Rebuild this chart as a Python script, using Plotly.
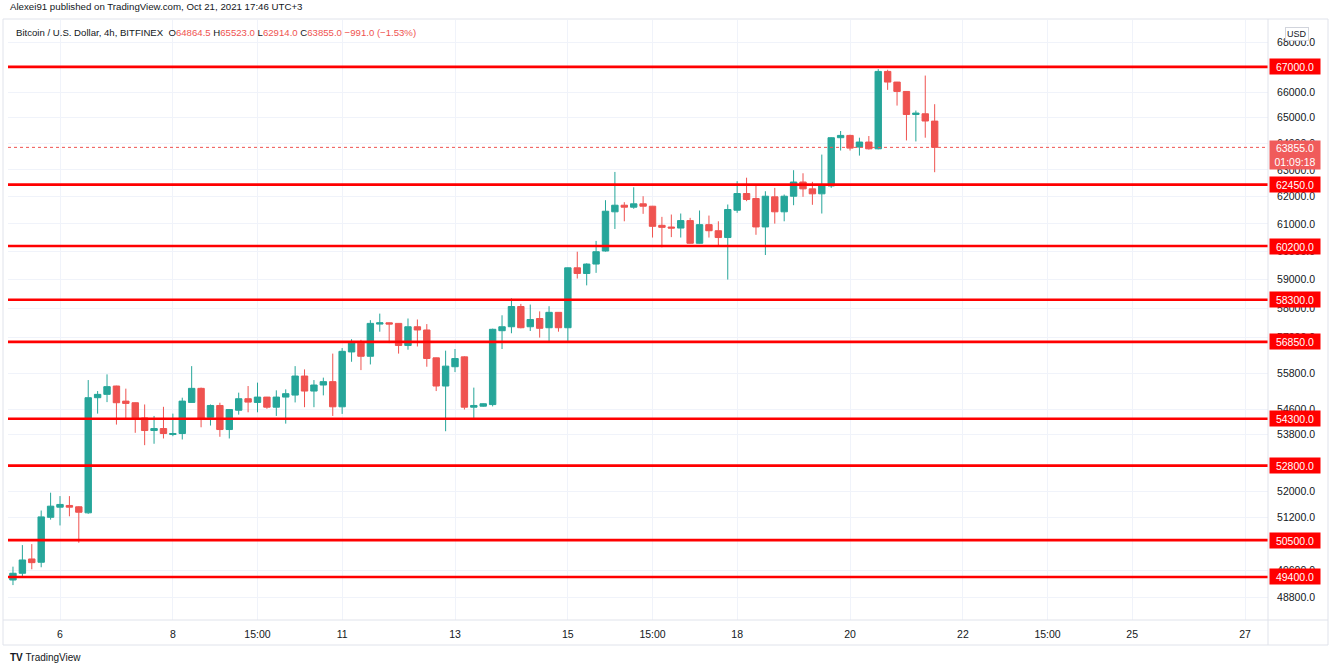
import numpy as np
import pandas as pd
import plotly.graph_objects as go

# ---------------- data (BTC/USD 4h, Bitfinex) ----------------
start_time = "2021-10-05 04:00"   # UTC, first candle
opens = [49311, 49510, 49935, 49837, 51193, 51504, 51557, 51516, 51330, 54985,
         55095, 55370, 54873, 54820, 54323, 53917, 53981, 53789, 53821, 54830,
         55293, 54343, 54730, 53949, 54575, 54952, 54830, 55005, 54674, 55005,
         55071, 55701, 55204, 55403, 55515, 54687, 56509, 56807, 56363, 57457,
         57501, 57481, 56727, 57366, 57255, 56310, 55370, 56012, 56343, 54674,
         54707, 54760, 57231, 57366, 58064, 57366, 57649, 57332, 57862, 57332,
         59422, 59221, 59555, 60021, 61443, 61686, 61613, 61738, 61649, 60949,
         60887, 60850, 61122, 60299, 60974, 60753, 60506, 61502, 62118, 61934,
         60890, 61996, 61443, 62018, 62547, 62291, 62107, 62400, 64224, 64312,
         63865, 64058, 63800, 66819, 66395, 66024, 65122, 65149, 64864.5]
highs = [49706, 50351, 50381, 51401, 51952, 51846, 51846, 51535, 55568, 55204,
         55757, 55380, 55283, 54830, 54763, 54389, 54687, 54465, 54985, 56032,
         55317, 54763, 54820, 54610, 55151, 55370, 55482, 55010, 55227, 55260,
         56032, 55923, 55568, 55648, 56453, 56641, 56941, 56917, 57592, 57818,
         57510, 57490, 57649, 57615, 57457, 56320, 56552, 56608, 56363, 55317,
         54800, 57300, 57760, 58347, 58155, 58131, 57895, 58074, 57870, 59430,
         59996, 59580, 60384, 61871, 62924, 61797, 62350, 62018, 61660, 61258,
         61343, 61380, 61222, 61491, 61306, 61096, 61712, 62577, 62708, 62450,
         62203, 62328, 62081, 62990, 62874, 62554, 63580, 64240, 64482, 64339,
         64224, 64289, 66911, 66884, 66400, 66030, 65276, 66653, 65523.0]
lows = [49162, 49430, 49629, 49688, 51122, 50945, 51224, 50420, 51300, 54465,
        54840, 54109, 54290, 53844, 53448, 53493, 53662, 53735, 53630, 54820,
        54022, 54077, 53716, 53662, 54432, 54508, 54508, 54621, 54389, 54140,
        54830, 54674, 54674, 55062, 54389, 54455, 56178, 55899, 56088, 57197,
        56807, 56453, 56585, 56694, 56012, 55204, 53895, 55833, 54598, 54323,
        54690, 54700, 56608, 57143, 57312, 57221, 56995, 56860, 57197, 56860,
        59042, 58802, 59243, 60000, 60816, 61096, 61554, 61369, 60506, 60153,
        60521, 60506, 60290, 60290, 60506, 60237, 59006, 61406, 61834, 60605,
        59877, 61011, 61096, 61686, 61996, 61701, 61380, 62328, 63734, 63734,
        63541, 63770, 63780, 66086, 65469, 64120, 64081, 64224, 62914.0]
closes = [49510, 49905, 49825, 51206, 51535, 51588, 51504, 51349, 54985, 55095,
          55350, 54820, 54797, 54290, 53917, 53981, 53821, 53821, 54873, 55293,
          54323, 54730, 53949, 54598, 54952, 54840, 55005, 54674, 55005, 55118,
          55701, 55204, 55403, 55515, 54687, 56529, 56807, 56363, 57481, 57501,
          57457, 56727, 57366, 57255, 56287, 55370, 56032, 56287, 54674, 54730,
          54787, 57278, 57366, 58064, 57332, 57615, 57312, 57862, 57332, 59422,
          59221, 59555, 59996, 61465, 61686, 61613, 61738, 61649, 60912, 60875,
          60850, 61122, 60299, 60974, 60753, 60506, 61528, 62118, 61897, 60890,
          62018, 61443, 62018, 62547, 62291, 62107, 62424, 64224, 64312, 63826,
          64058, 63800, 66819, 66395, 66024, 65122, 65176, 64868, 63855.0]

levels = [67000, 62450, 60200, 58300, 56850, 54300, 52800, 50500, 49400]
last_price = 63855.0
countdown = "01:09:18"

price_ticks = [68000, 67000, 66000, 65000, 64000, 63000, 62000, 61000, 60000,
               59000, 58000, 57000, 55800, 54600, 53800, 52000, 51200, 49600, 48800]
date_tick_vals = ["2021-10-06", "2021-10-08", "2021-10-09 12:00", "2021-10-11",
                  "2021-10-13", "2021-10-15", "2021-10-16 12:00", "2021-10-18",
                  "2021-10-20", "2021-10-22", "2021-10-23 12:00", "2021-10-25",
                  "2021-10-27"]
date_tick_text = ["6", "8", "15:00", "11", "13", "15", "15:00", "18", "20", "22",
                  "15:00", "25", "27"]

title_text = "Alexei91 published on TradingView.com, Oct 21, 2021 17:46 UTC+3"
symbol_text = "Bitcoin / U.S. Dollar, 4h, BITFINEX"
ohlc_text = ["O", "64864.5", "H", "65523.0", "L", "62914.0", "C", "63855.0"]
change_text = "\u2212991.0 (\u22121.53%)"

# ---------------- layout constants ----------------
W, H = 1332, 672
ML, MR, MT, MB = 8, 64, 20, 52
PW, PH = W - ML - MR, H - MT - MB
FONT = "Liberation Sans, Arial, sans-serif"
UP, DOWN = "#26a69a", "#ef5350"

times = pd.date_range(start_time, periods=len(opens), freq="4h")
px_per_day = 56.43
t0 = pd.Timestamp("2021-10-06")
x_left = t0 - pd.Timedelta(days=(60 - ML) / px_per_day)
x_right = t0 + pd.Timedelta(days=(ML + PW - 60) / px_per_day)
y_top, y_bot = 68903.0, 48147.0


def px_x(p):
    return (p - ML) / PW


def px_y(p):
    return (MT + PH - p) / PH


fig = go.Figure()
fig.add_trace(go.Candlestick(
    x=times, open=opens, high=highs, low=lows, close=closes,
    increasing=dict(line=dict(color=UP, width=1), fillcolor=UP),
    decreasing=dict(line=dict(color=DOWN, width=1), fillcolor=DOWN),
    whiskerwidth=0, hoverinfo="skip", showlegend=False))

# current price dotted line
fig.add_trace(go.Scatter(x=[x_left, x_right], y=[last_price, last_price], mode="lines",
                         line=dict(color=DOWN, width=1, dash="dot"),
                         hoverinfo="skip", showlegend=False))

# horizontal levels
for lv in levels:
    fig.add_trace(go.Scatter(x=[x_left, x_right], y=[lv, lv], mode="lines",
                             line=dict(color="#ff0000", width=2.6),
                             hoverinfo="skip", showlegend=False))

annotations = []
for lv in levels:
    annotations.append(dict(
        x=1, xref="paper", xanchor="left", xshift=1,
        y=np.log10(lv), yref="y", yanchor="middle",
        text=f"{lv:.1f}", showarrow=False, width=48, height=13,
        bgcolor="#ff0000", font=dict(family=FONT, size=10.5, color="white")))

annotations.append(dict(
    x=1, xref="paper", xanchor="left", xshift=1,
    y=np.log10(last_price), yref="y", yanchor="top", yshift=7,
    text=f"{last_price:.1f}<br>{countdown}", showarrow=False, width=48, height=26,
    bgcolor="#f05b5b", font=dict(family=FONT, size=10.5, color="white")))

annotations.append(dict(
    x=px_x(1297), xref="paper", xanchor="center", y=px_y(34), yref="paper",
    yanchor="middle", text="USD", showarrow=False, bgcolor="white",
    bordercolor="#d1d4dc", borderwidth=1, borderpad=1,
    font=dict(family=FONT, size=9, color="#131722")))

annotations.append(dict(
    x=px_x(8), xref="paper", xanchor="left", y=px_y(7), yref="paper",
    yanchor="middle", text=title_text, showarrow=False,
    font=dict(family=FONT, size=9.7, color="#131722")))

hdr = symbol_text + "&nbsp;&nbsp;"
for i in range(0, len(ohlc_text), 2):
    hdr += (f"<span style='color:#131722'>{ohlc_text[i]}</span>"
            f"<span style='color:{DOWN}'>{ohlc_text[i+1]}</span>&nbsp;")
hdr += f"<span style='color:{DOWN}'>{change_text}</span>"
annotations.append(dict(
    x=px_x(14), xref="paper", xanchor="left", y=px_y(33), yref="paper",
    yanchor="middle", text=hdr, showarrow=False,
    font=dict(family=FONT, size=9.6, color="#131722")))

annotations.append(dict(
    x=px_x(8), xref="paper", xanchor="left", y=px_y(657), yref="paper",
    yanchor="middle", text="<b>TV</b>&nbsp;TradingView", showarrow=False,
    font=dict(family=FONT, size=10, color="#131722")))

frame = "#e0e3eb"
shapes = [
    dict(type="rect", xref="paper", yref="paper", x0=px_x(3), x1=px_x(1328),
         y0=px_y(645), y1=px_y(19), line=dict(color=frame, width=1), layer="above"),
    dict(type="line", xref="paper", yref="paper", x0=1, x1=1,
         y0=px_y(645), y1=px_y(19), line=dict(color=frame, width=1), layer="above"),
    dict(type="line", xref="paper", yref="paper", x0=px_x(3), x1=px_x(1328),
         y0=0, y1=0, line=dict(color=frame, width=1), layer="above"),
]

fig.update_layout(
    width=W, height=H, autosize=False,
    margin=dict(l=ML, r=MR, t=MT, b=MB, pad=0),
    paper_bgcolor="white", plot_bgcolor="white",
    boxgap=0.32, boxgroupgap=0,
    annotations=annotations, shapes=shapes,
    font=dict(family=FONT, size=10.5, color="#131722"),
    xaxis=dict(type="date", range=[x_left, x_right], rangeslider=dict(visible=False),
               tickvals=date_tick_vals, ticktext=date_tick_text,
               showgrid=True, gridcolor="#f0f3fa", gridwidth=1,
               zeroline=False, showline=False,
               ticks="outside", ticklen=4, tickcolor="rgba(0,0,0,0)",
               tickfont=dict(family=FONT, size=10.5, color="#131722")),
    yaxis=dict(type="log", side="right", range=[np.log10(y_bot), np.log10(y_top)],
               tickvals=price_ticks, ticktext=[f"{v:.1f}" for v in price_ticks],
               showgrid=True, gridcolor="#f0f3fa", gridwidth=1,
               zeroline=False, showline=False,
               ticks="outside", ticklen=6, tickcolor="rgba(0,0,0,0)",
               tickfont=dict(family=FONT, size=10.5, color="#131722")),
)

fig.write_html("out.html")
